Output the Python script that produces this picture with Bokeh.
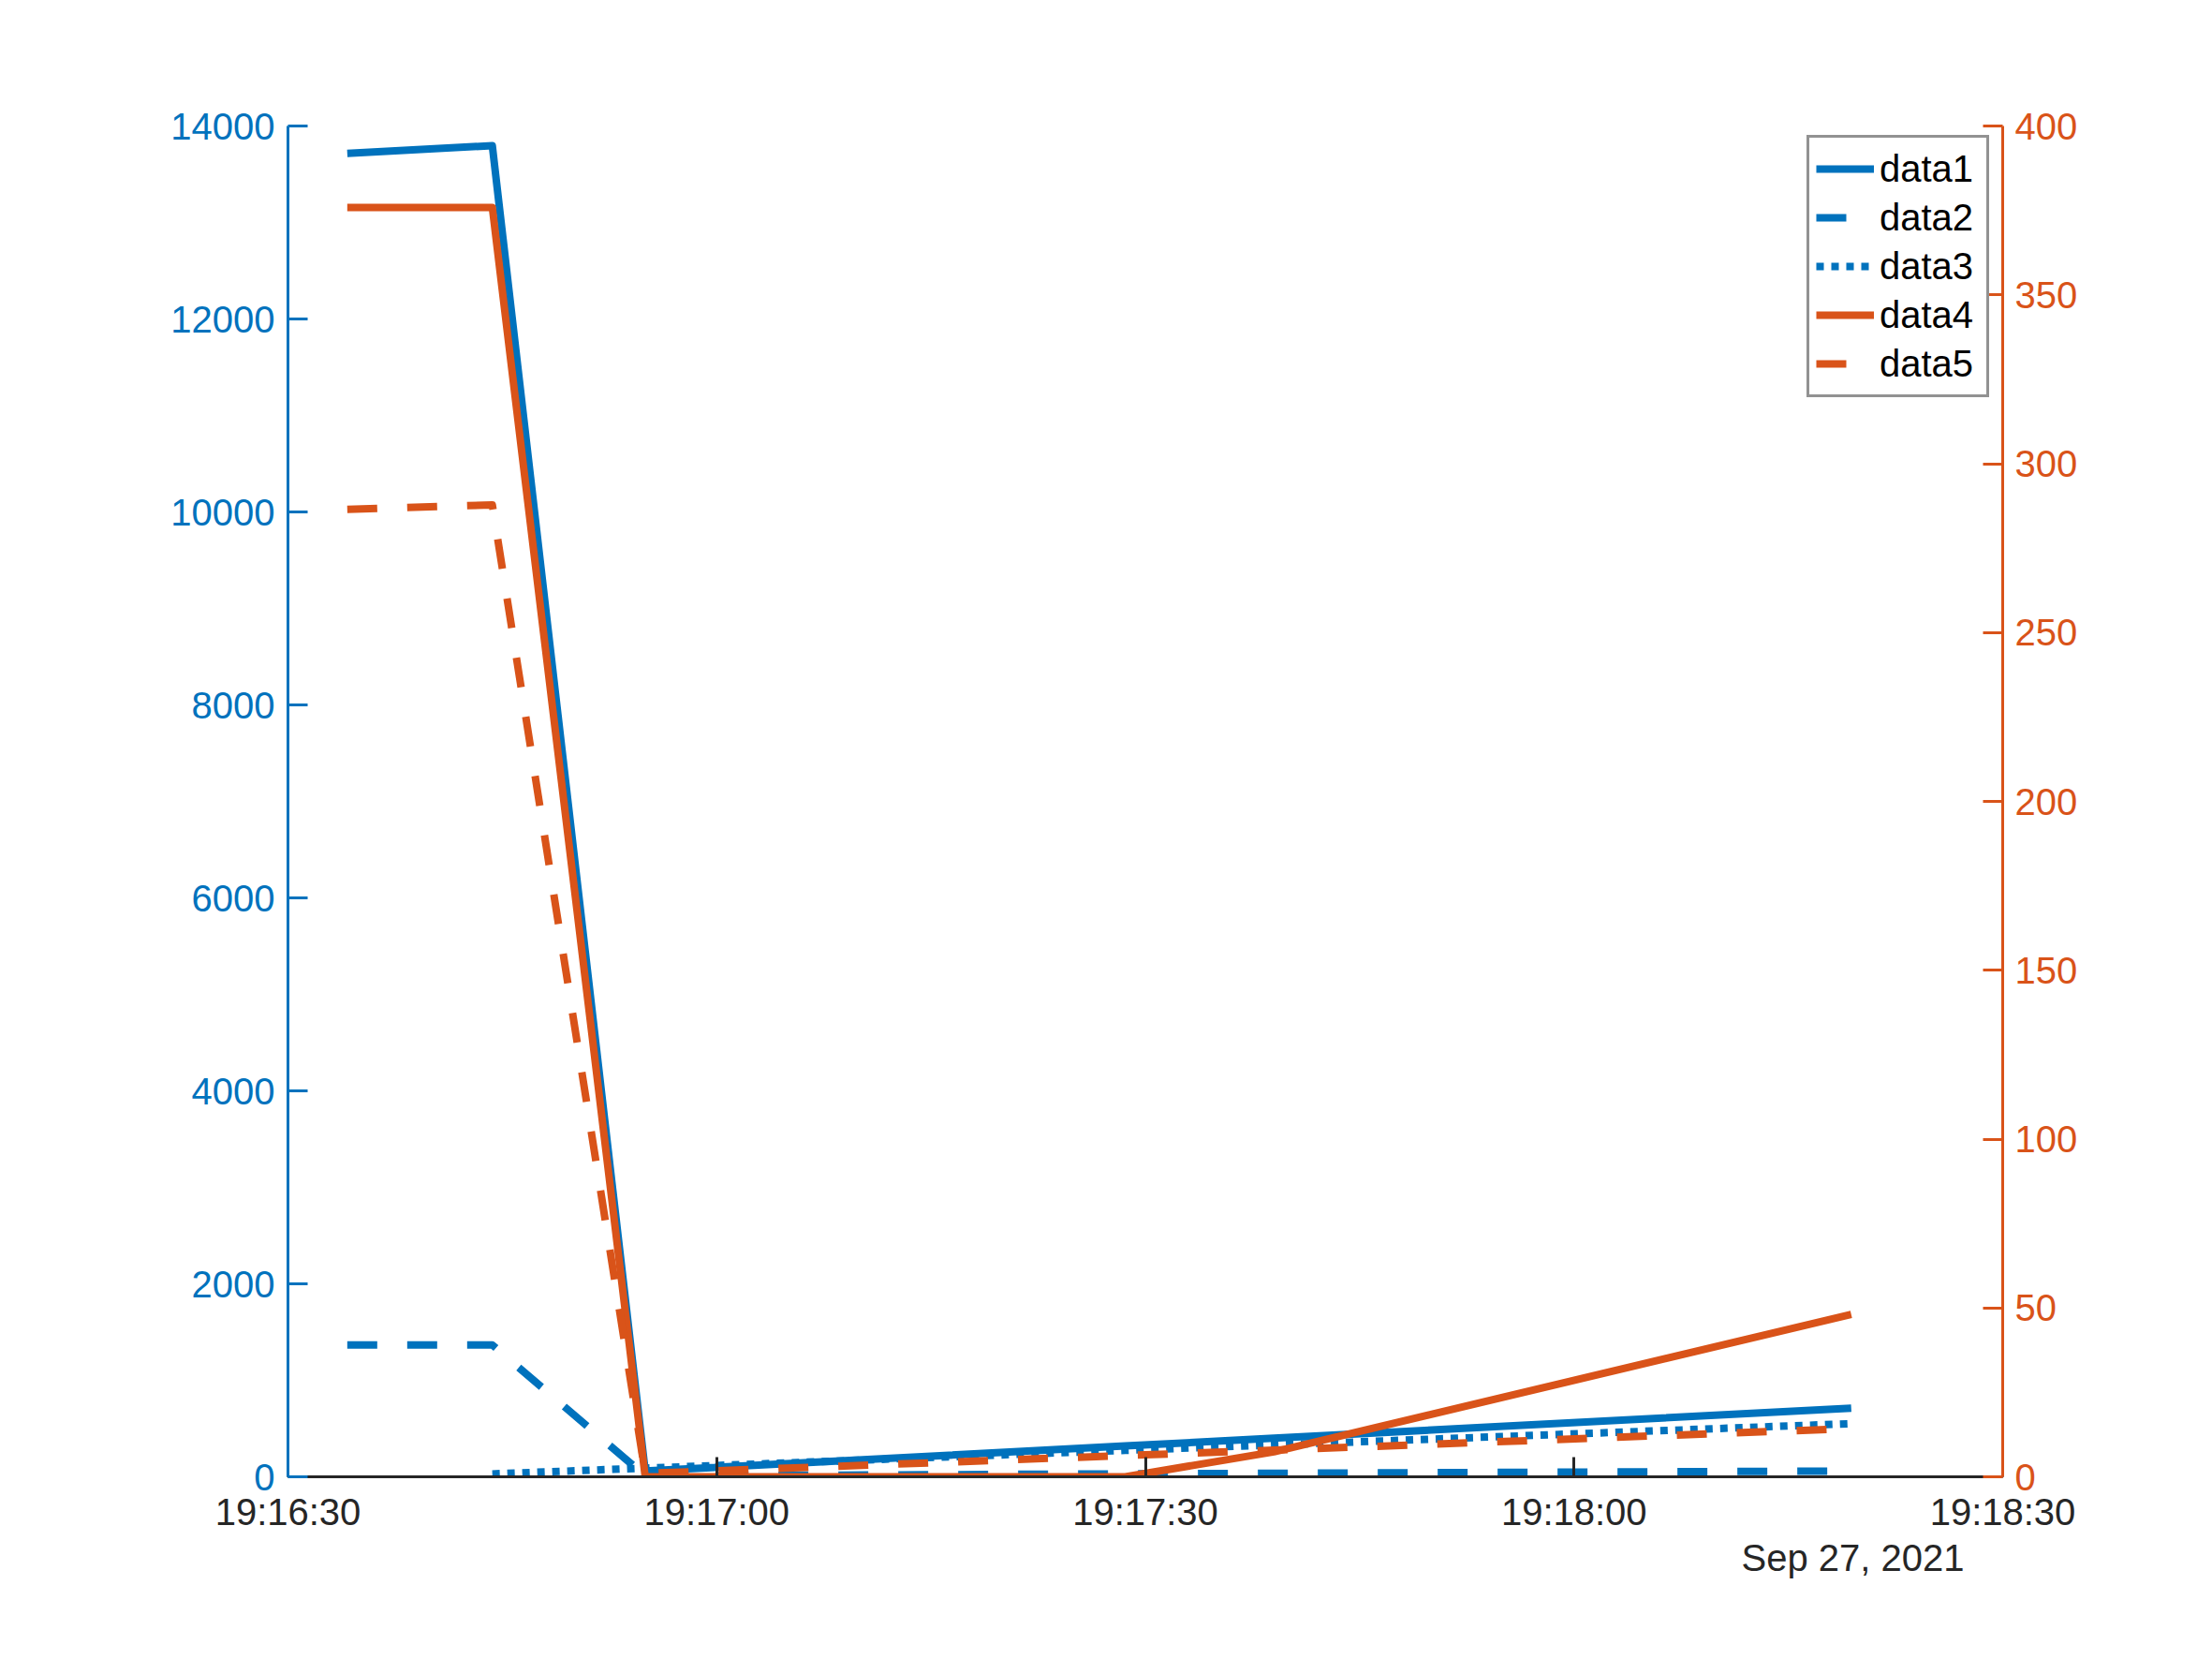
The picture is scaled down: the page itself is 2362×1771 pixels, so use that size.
import math
import pandas as pd
from bokeh.plotting import figure
from bokeh.models import (Range1d, LinearAxis, FixedTicker, DatetimeTickFormatter,
                          Legend, LegendItem, Title)
from bokeh.embed import file_html
from bokeh.resources import INLINE

nan = math.nan

# ---- data ----
times = ["2021-09-27 19:16:34.15", "2021-09-27 19:16:44.30", "2021-09-27 19:16:55.00",
         "2021-09-27 19:17:28.60", "2021-09-27 19:17:39.00", "2021-09-27 19:18:19.40"]
data1 = [13715, 13796, 60, 320, 400, 712]
data2 = [1367, 1367, 10, 30, 36, 60]
data3 = [nan, 30, 90, 274, 330, 551]
data4 = [375.9, 375.9, 0, 0, 7.4, 48.1]
data5 = [286.5, 287.8, 1.0, 6.3, 7.9, 14.3]

x_start = "2021-09-27 19:16:30"
x_end = "2021-09-27 19:18:30"
x_ticks = ["2021-09-27 19:16:30", "2021-09-27 19:17:00", "2021-09-27 19:17:30",
           "2021-09-27 19:18:00", "2021-09-27 19:18:30"]
left_ticks = [0, 2000, 4000, 6000, 8000, 10000, 12000, 14000]
right_ticks = [0, 50, 100, 150, 200, 250, 300, 350, 400]
date_text = "Sep 27, 2021"
labels = ["data1", "data2", "data3", "data4", "data5"]

BLUE = "#0072BD"
ORANGE = "#D95319"
DARK = "#262626"
FONT = "Liberation Sans"

t = pd.to_datetime(times)
t_ms = lambda s: pd.Timestamp(s).value / 1e6

p = figure(width=2340, height=1750, x_axis_type="datetime",
           output_backend="svg", toolbar_location=None,
           x_range=Range1d(pd.Timestamp(x_start), pd.Timestamp(x_end)),
           y_range=Range1d(0, 14000),
           min_border_left=307, min_border_right=202,
           min_border_top=134, min_border_bottom=174)
p.extra_y_ranges = {"right": Range1d(0, 400)}
p.outline_line_color = None
p.xgrid.visible = False
p.ygrid.visible = False
p.background_fill_color = "white"
p.border_fill_color = "white"

def style_axis(ax, color, standoff):
    ax.axis_line_color = color
    ax.axis_line_width = 3
    ax.major_tick_line_color = color
    ax.major_tick_line_width = 3
    ax.major_tick_in = 21
    ax.major_tick_out = 0
    ax.minor_tick_line_color = None
    ax.major_label_text_color = color
    ax.major_label_text_font = FONT
    ax.major_label_text_font_size = "40px"
    ax.major_label_standoff = standoff

xax = p.xaxis[0]
style_axis(xax, DARK, 15)
xax.ticker = FixedTicker(ticks=[t_ms(s) for s in x_ticks])
fmt = "%H:%M:%S"
xax.formatter = DatetimeTickFormatter(seconds=fmt, minsec=fmt, minutes=fmt, hourmin=fmt,
                                      hours=fmt, milliseconds=fmt, microseconds=fmt,
                                      boundary_scaling=False, strip_leading_zeros=False)

yl = p.yaxis[0]
style_axis(yl, BLUE, 14)
yl.ticker = FixedTicker(ticks=left_ticks)

yr = LinearAxis(y_range_name="right")
style_axis(yr, ORANGE, 13)
yr.ticker = FixedTicker(ticks=right_ticks)
p.add_layout(yr, "right")

LW = 8
r1 = p.line(t, data1, line_color=BLUE, line_width=LW, line_join="round")
r2 = p.line(t, data2, line_color=BLUE, line_width=LW, line_join="round", line_dash="32 32")
r3 = p.line(t, data3, line_color=BLUE, line_width=LW, line_join="round", line_dash="8 8")
r4 = p.line(t, data4, line_color=ORANGE, line_width=LW, line_join="round", y_range_name="right")
r5 = p.line(t, data5, line_color=ORANGE, line_width=LW, line_join="round", line_dash="32 32",
            y_range_name="right")

legend = Legend(items=[LegendItem(label=l, renderers=[r]) for l, r in zip(labels, [r1, r2, r3, r4, r5])],
                location=(1622, 1152), margin=0, padding=7, spacing=0,
                glyph_width=62, glyph_height=52, label_height=52, label_width=107,
                label_standoff=6, label_text_font=FONT, label_text_font_size="40px",
                label_text_color="black", border_line_color=DARK, border_line_width=3,
                background_fill_color="white", background_fill_alpha=1.0)
p.add_layout(legend)

date_title = Title(text=date_text, align="right", offset=41, standoff=0,
                   text_font=FONT, text_font_size="40px", text_font_style="normal",
                   text_color=DARK)
p.add_layout(date_title, "below")

open("out.html", "w").write(file_html(p, INLINE))
